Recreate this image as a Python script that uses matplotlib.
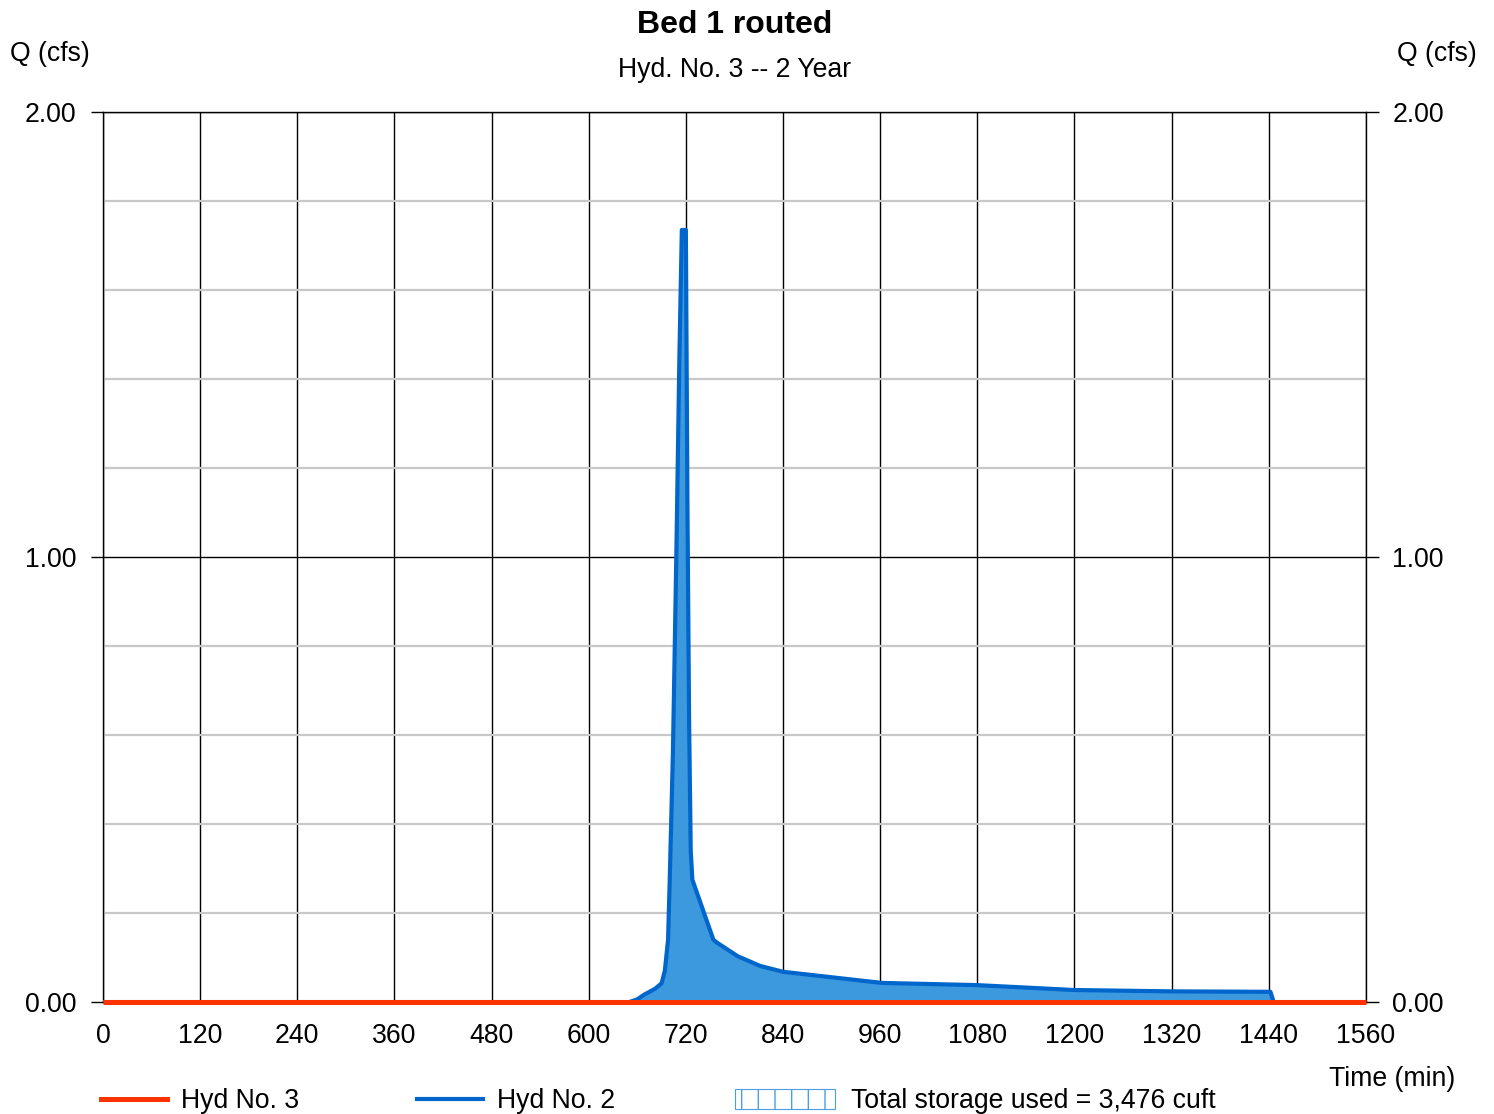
import matplotlib
matplotlib.use("Agg")
import matplotlib.pyplot as plt
from matplotlib.lines import Line2D
from matplotlib.patches import Rectangle
from matplotlib.ticker import MultipleLocator

plt.rcParams["font.family"] = ["Liberation Sans", "DejaVu Sans"]

# Outflow hydrograph (Hyd No. 3) - stays at zero for the whole run
t3 = [0, 1560]
q3 = [0.0, 0.0]

# Inflow hydrograph (Hyd No. 2)
t2 = [0, 650, 660, 668, 682, 690, 694, 698, 700, 704, 708, 712, 715, 720, 722, 724,
      726, 728, 754, 758, 784, 812, 840, 962, 1080, 1200, 1320, 1442, 1446, 1560]
q2 = [0.0, 0.0, 0.006, 0.016, 0.03, 0.042, 0.07, 0.14, 0.27, 0.56, 0.98, 1.45,
      1.735, 1.735, 1.1, 0.63, 0.34, 0.275, 0.14, 0.134, 0.103, 0.081, 0.068,
      0.043, 0.038, 0.027, 0.024, 0.023, 0.0, 0.0]

x_ticks = list(range(0, 1561, 120))
y_ticks = [0.0, 1.0, 2.0]

RED = "#FF3300"
BLUE = "#0066CC"
FILL = "#3D99DD"
FS = 19.2

fig = plt.figure(figsize=(14.94, 11.14), dpi=100)
ax = fig.add_axes([0.0689, 0.1005, 0.8454, 0.7989])

ax.set_xlim(0, 1560)
ax.set_ylim(0, 2)
ax.set_xticks(x_ticks)
ax.set_yticks(y_ticks)
ax.set_yticklabels([f"{v:.2f}" for v in y_ticks])
ax.yaxis.set_minor_locator(MultipleLocator(0.2))

ax.set_axisbelow(True)
ax.grid(which="major", axis="x", color="black", lw=1.0)
ax.grid(which="minor", axis="y", color="#C8C8C8", lw=1.6)
ax.grid(which="major", axis="y", color="black", lw=1.0)

ax.tick_params(axis="x", length=0, pad=15, labelsize=FS)
ax.tick_params(axis="y", which="major", length=9, width=1.0, pad=10,
               labelsize=FS, left=True, right=True, labelleft=True, labelright=True)
ax.tick_params(axis="y", which="minor", length=0)
for s in ax.spines.values():
    s.set_color("black")
    s.set_linewidth(1.0)

ax.fill_between(t2, q2, 0, color=FILL, lw=0, zorder=2)
ax.plot(t2, q2, color=BLUE, lw=3.0, zorder=3, solid_joinstyle="round")
ax.plot(t3, q3, color=RED, lw=3.6, zorder=4, clip_on=False, solid_capstyle="butt")

# Titles and axis captions
fig.text(0.4916, 0.9775, "Bed 1 routed", ha="center", va="center",
         fontsize=23, fontweight="bold")
fig.text(0.4916, 0.9375, "Hyd. No. 3 -- 2 Year", ha="center", va="center", fontsize=FS)
fig.text(0.0335, 0.9515, "Q (cfs)", ha="center", va="center", fontsize=FS)
fig.text(0.9618, 0.9515, "Q (cfs)", ha="center", va="center", fontsize=FS)
fig.text(0.9739, 0.0315, "Time (min)", ha="right", va="center", fontsize=FS)

# Legend row along the bottom
ly = 0.0135
fig.add_artist(Line2D([0.0676, 0.1118], [ly, ly], color=RED, lw=3.6,
                      transform=fig.transFigure))
fig.add_artist(Line2D([0.2791, 0.3233], [ly, ly], color=BLUE, lw=3.0,
                      transform=fig.transFigure))
box = Rectangle((0.492, 0.0045), 0.067, 0.0179, transform=fig.transFigure,
                facecolor="white", edgecolor="#4A9FE0", hatch="|", lw=0.8)
fig.add_artist(box)
ty = 0.0118
fig.text(0.1212, ty, "Hyd No. 3", ha="left", va="center", fontsize=FS)
fig.text(0.3327, ty, "Hyd No. 2", ha="left", va="center", fontsize=FS)
fig.text(0.5696, ty, "Total storage used = 3,476 cuft", ha="left", va="center", fontsize=FS)

fig.savefig("out.png", dpi=100)
